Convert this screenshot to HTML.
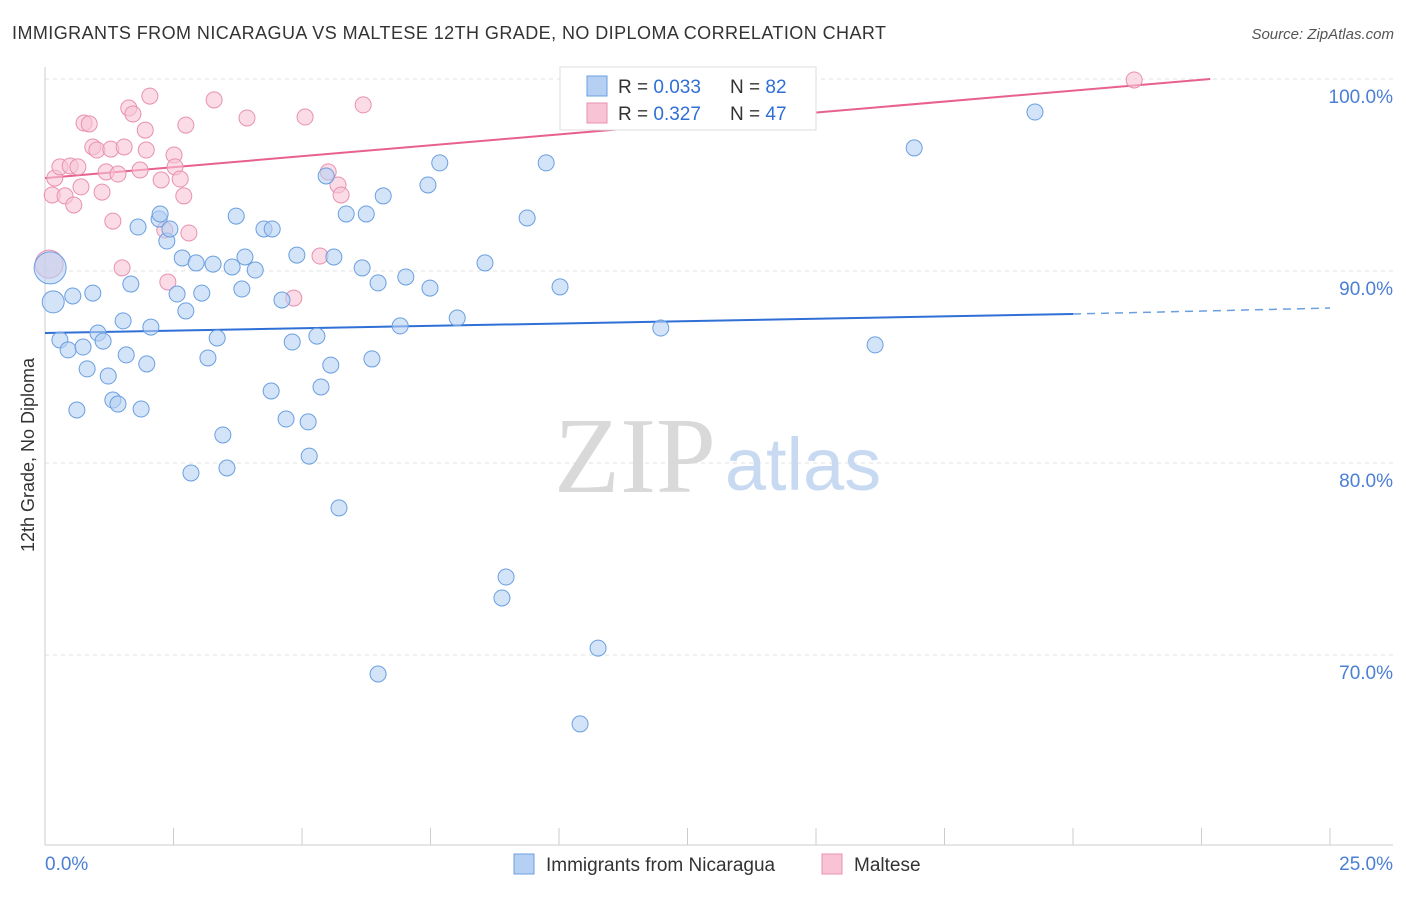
<!DOCTYPE html>
<html><head><meta charset="utf-8"><style>
body{margin:0;background:#fff;font-family:"Liberation Sans",sans-serif}
</style></head><body>
<svg id="chart" width="1406" height="892" xmlns="http://www.w3.org/2000/svg" font-family="Liberation Sans, sans-serif">
<text x="12" y="39" font-size="18" fill="#333" textLength="874" lengthAdjust="spacing">IMMIGRANTS FROM NICARAGUA VS MALTESE 12TH GRADE, NO DIPLOMA CORRELATION CHART</text>
<text x="1394" y="39" font-size="15" fill="#555" text-anchor="end" font-style="italic">Source: ZipAtlas.com</text>
<text transform="translate(34,455) rotate(-90)" font-size="18" fill="#333" text-anchor="middle">12th Grade, No Diploma</text>
<g id="grid"></g>
<g id="axes"></g>
<g><text x="635" y="492" font-size="108" fill="#d9d9d9" font-family="Liberation Serif, serif" text-anchor="middle">ZIP</text><text x="803" y="490" font-size="74" fill="#c8daf2" text-anchor="middle">atlas</text></g>
<g id="trend"></g>
<g id="pts"></g>
<g>
<rect x="560" y="67" width="256" height="63" fill="#fff" stroke="#ddd"/>
<rect x="587" y="76" width="20" height="20" fill="#b5d0f3" stroke="#6a9fe0"/>
<text x="618" y="93" font-size="19" fill="#333">R = <tspan fill="#2f6fd6">0.033</tspan></text>
<text x="730" y="93" font-size="19" fill="#333">N = <tspan fill="#2f6fd6">82</tspan></text>
<rect x="587" y="103" width="20" height="20" fill="#f8c4d5" stroke="#e890b0"/>
<text x="618" y="120" font-size="19" fill="#333">R = <tspan fill="#2f6fd6">0.327</tspan></text>
<text x="730" y="120" font-size="19" fill="#333">N = <tspan fill="#2f6fd6">47</tspan></text>
</g>
<g>
<rect x="514" y="854" width="20" height="20" fill="#b5d0f3" stroke="#6a9fe0"/>
<text x="546" y="871" font-size="19" fill="#333">Immigrants from Nicaragua</text>
<rect x="822" y="854" width="20" height="20" fill="#f8c4d5" stroke="#e890b0"/>
<text x="854" y="871" font-size="19" fill="#333">Maltese</text>
</g>
</svg>
<script>
const blueX=[0.10,0.16,0.54,0.93,0.29,0.45,0.74,1.03,1.13,0.82,1.23,0.62,1.32,1.42,1.87,1.58,1.98,1.52,2.06,1.67,1.81,2.22,2.24,2.37,2.43,2.57,2.67,2.74,2.94,3.05,3.27,3.35,3.17,3.46,2.84,3.54,3.64,3.72,3.83,3.89,4.09,4.26,4.42,4.61,4.40,4.69,4.81,4.90,5.12,5.14,5.29,5.37,5.47,5.56,5.62,5.72,5.86,6.25,6.17,6.48,6.36,6.58,6.91,7.02,7.45,7.49,7.68,8.02,8.56,8.97,8.89,9.38,9.75,10.02,10.76,10.41,6.48,11.98,16.15,16.91,19.26];
const blueY=[90.16,88.39,88.70,88.85,86.41,85.89,86.04,86.77,86.35,84.90,84.53,82.76,83.28,83.07,82.81,85.63,85.16,87.40,87.08,89.32,92.29,92.71,92.97,91.56,92.19,88.80,90.68,87.92,90.42,88.85,90.36,86.51,85.47,81.46,79.48,79.74,90.21,92.86,89.06,90.73,90.05,92.19,92.19,88.49,83.75,82.29,86.30,90.83,82.14,80.36,86.61,83.96,94.95,85.10,90.73,77.66,92.97,92.97,90.16,89.38,85.42,93.91,87.14,89.69,94.48,89.11,95.63,87.55,90.42,74.06,72.97,92.76,95.63,89.17,70.36,66.41,69.01,87.03,86.15,96.41,98.28];
const pinkX=[0.08,0.19,0.14,0.29,0.39,0.49,0.56,0.64,0.70,0.76,0.86,0.93,1.01,1.11,1.19,1.28,1.32,1.42,1.54,1.50,1.63,1.71,1.85,1.95,1.97,2.04,2.26,2.33,2.39,2.51,2.53,2.63,2.70,2.74,2.80,3.29,3.93,4.84,5.06,5.35,5.51,5.70,5.76,6.19,21.19];
const pinkY=[90.36,94.84,93.96,95.42,93.91,95.47,93.44,95.42,94.38,97.71,97.66,96.46,96.30,94.11,95.16,96.35,92.60,95.05,96.46,90.16,98.49,98.18,95.26,97.34,96.30,99.11,94.74,92.14,89.43,96.04,95.42,94.79,93.91,97.60,91.98,98.91,97.97,88.59,98.02,90.78,95.16,94.48,93.96,98.65,99.95];
const yTicks=[100,90,80,70];
const yTickLabels=["100.0%","90.0%","80.0%","70.0%"];
const xTicks=[0,2.5,5,7.5,10,12.5,15,17.5,20,22.5,25];
const blueTrend=[86.77,87.76,88.07];
const pinkTrend=[94.84,100];
const pinkTrendX=[0,22.67];
const X=v=>45+v/25*1285, Y=v=>79+(100-v)*19.2;
const NS="http://www.w3.org/2000/svg";
function mk(t,a,p){const e=document.createElementNS(NS,t);for(const k in a)e.setAttribute(k,a[k]);p.appendChild(e);return e;}
const grid=document.getElementById('grid'),axes=document.getElementById('axes');
yTicks.forEach((v,i)=>{
 const l=mk('line',{x1:45,x2:1393,y1:Y(v),y2:Y(v),stroke:'#e2e2e2','stroke-dasharray':'4,4'},grid);
 
 
 const t=mk('text',{x:1393,y:Y(v)+24,'font-size':19,fill:'#4a7fd4','text-anchor':'end'},axes);
 t.textContent=yTickLabels[i];
 
 
});
mk('line',{x1:45,x2:45,y1:67,y2:845,stroke:'#ccc'},axes);
mk('line',{x1:45,x2:1393,y1:845,y2:845,stroke:'#ccc'},axes);
xTicks.forEach(v=>{const l=mk('line',{x1:X(v),x2:X(v),y1:828,y2:845,stroke:'#ccc'},axes);
 
 });
let t=mk('text',{x:45,y:870,'font-size':19,fill:'#4a7fd4'},axes);t.textContent='0.0%';


t=mk('text',{x:1393,y:870,'font-size':19,fill:'#4a7fd4','text-anchor':'end'},axes);t.textContent='25.0%';


const pts=document.getElementById('pts');
pinkX.forEach((x,i)=>{const c=mk('circle',{cx:X(x),cy:Y(pinkY[i]),r:i==0?14:8,fill:'#f8c4d5','fill-opacity':0.6,stroke:'#e890b0','stroke-width':1},pts);
 
 });
blueX.forEach((x,i)=>{const c=mk('circle',{cx:X(x),cy:Y(blueY[i]),r:i==0?16:(i==1?11:8),fill:'#b5d0f3','fill-opacity':0.6,stroke:'#6a9fe0','stroke-width':1},pts);
 
 });
const tr=document.getElementById('trend');
let l=mk('line',{x1:X(0),y1:Y(blueTrend[0]),x2:X(20),y2:Y(blueTrend[1]),stroke:'#2f6fd6','stroke-width':2},tr);


l=mk('line',{x1:X(20),y1:Y(blueTrend[1]),x2:X(25),y2:Y(blueTrend[2]),stroke:'#6a9fe0','stroke-width':1.5,'stroke-dasharray':'8,6'},tr);


l=mk('line',{x1:X(pinkTrendX[0]),y1:Y(pinkTrend[0]),x2:X(pinkTrendX[1]),y2:Y(pinkTrend[1]),stroke:'#e8608c','stroke-width':2},tr);


</script>
</body></html>
